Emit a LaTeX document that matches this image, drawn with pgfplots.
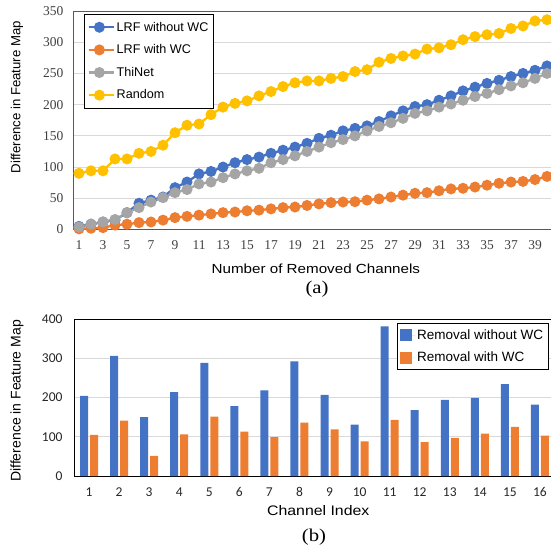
\documentclass[border=0pt]{standalone}
\usepackage{pgfplots}
\pgfplotsset{compat=1.18}
\usepackage{fontspec}
\setmainfont{Liberation Sans}
\newfontfamily\carlito{Carlito}
\newfontfamily\timesf{Liberation Serif}
\newfontfamily\timeswide[FakeStretch=1.15]{Liberation Serif}
\newfontfamily\arialwide[FakeStretch=1.15]{Liberation Sans}
\definecolor{cblue}{HTML}{4472C4}
\definecolor{corange}{HTML}{ED7D31}
\definecolor{cgrey}{HTML}{A5A5A5}
\definecolor{cgold}{HTML}{FFC000}
\definecolor{cgrid}{HTML}{D9D9D9}
\begin{document}
\begin{tikzpicture}
\useasboundingbox (0pt,0pt) rectangle (551pt,546pt);
\begin{axis}[
  at={(73pt,316.5pt)}, anchor=south west,
  scale only axis, width=480pt, height=218.5pt,
  xmin=0.5, xmax=40.5, ymin=0, ymax=350,
  xtick={1,3,...,39}, ytick={0,50,...,350},
  major tick length=0pt,
  ymajorgrids, grid style={cgrid, line width=0.8pt},
  axis line style={gray!70!black, line width=0.8pt},
  /pgf/number format/assume math mode=true,
  ticklabel style={font=\timesf\fontsize{13.5}{15}\selectfont, text=black!75},
  xticklabel style={yshift=-7.5pt},
  yticklabel style={xshift=-6pt},
  xlabel={Number of Removed Channels},
  ylabel={Difference in Feature Map},
  xlabel style={font=\arialwide\fontsize{13.2}{15}\selectfont, at={(axis description cs:0.506,-0.178)}, anchor=center},
  ylabel style={font=\fontsize{13.2}{15}\selectfont, at={(axis description cs:-0.1167,0.606)}, anchor=center},
  legend style={at={(axis description cs:0.023,0.986)}, anchor=north west,
    draw=black, line width=0.8pt, fill=white, font=\fontsize{12.6}{14}\selectfont, row sep=8pt,
    inner xsep=3pt, inner ysep=5.5pt},
  legend cell align=left,
  legend image code/.code={
    \draw[#1, mark repeat=2, mark phase=2] plot coordinates {(0pt,0pt) (10.8pt,0pt) (21.6pt,0pt)};
    \path (0pt,0pt) -- (25pt,0pt);},
  every axis plot/.append style={line width=2.3pt, mark=*, mark size=4.3pt, mark options={solid}},
]
\addplot[cblue] coordinates {(1,5)(2,8.5)(3,12)(4,15)(5,27)(6,42)(7,47)(8,52)(9,67)(10,76)(11,89)(12,93)(13,100)(14,107)(15,112)(16,116)(17,122)(18,127)(19,132)(20,138)(21,146)(22,151)(23,158)(24,162)(25,166)(26,173)(27,182)(28,190)(29,197)(30,200)(31,207)(32,214)(33,222)(34,228)(35,234)(36,239)(37,245)(38,250)(39,255)(40,262)};
\addlegendentry{LRF without WC}
\addplot[corange] coordinates {(1,1)(2,2)(3,3)(4,7)(5,8.5)(6,11)(7,12)(8,15)(9,19)(10,21)(11,23)(12,25)(13,27)(14,28)(15,30)(16,31)(17,33)(18,35)(19,36)(20,38.5)(21,41)(22,43)(23,44)(24,44.5)(25,47)(26,49)(27,52)(28,55)(29,58)(30,59)(31,62)(32,65)(33,66)(34,68)(35,71)(36,74)(37,76)(38,77)(39,80)(40,85)};
\addlegendentry{LRF with WC}
\addplot[cgrey] coordinates {(1,4)(2,8.5)(3,12)(4,16)(5,27)(6,35)(7,44)(8,51)(9,59)(10,64)(11,73)(12,76)(13,83)(14,89)(15,94)(16,98)(17,107)(18,112)(19,118)(20,125)(21,132)(22,139)(23,144)(24,150)(25,158)(26,165)(27,171)(28,178)(29,186)(30,190)(31,196)(32,201)(33,207)(34,213)(35,218)(36,224)(37,230)(38,235)(39,242)(40,250)};
\addlegendentry{ThiNet}
\addplot[cgold] coordinates {(1,90)(2,94)(3,94)(4,113)(5,113)(6,122)(7,125)(8,135)(9,155)(10,167)(11,169)(12,184)(13,196)(14,202)(15,206)(16,214)(17,221)(18,229)(19,235)(20,238)(21,238)(22,242)(23,245)(24,253)(25,256)(26,268)(27,274)(28,278)(29,281)(30,289)(31,291)(32,296)(33,304)(34,309)(35,312)(36,314)(37,322)(38,326)(39,334)(40,336)};
\addlegendentry{Random}
\end{axis}
\node[font=\timeswide\fontsize{18}{20}\selectfont] at (317pt,257pt) {(a)};

\begin{axis}[
  at={(74pt,70pt)}, anchor=south west,
  scale only axis, width=478pt, height=157pt,
  xmin=0.5, xmax=16.4, ymin=0, ymax=400,
  xtick={1,...,16}, ytick={0,100,...,400},
  major tick length=0pt,
  ymajorgrids, grid style={cgrid, line width=0.8pt},
  axis line style={black, line width=0.8pt},
  /pgf/number format/assume math mode=true,
  ticklabel style={font=\carlito\fontsize{13.5}{15}\selectfont, text=black!85},
  xticklabel style={yshift=-8pt},
  yticklabel style={xshift=-8pt},
  xlabel={Channel Index},
  ylabel={Difference in Feature Map},
  xlabel style={font=\arialwide\fontsize{13.8}{15}\selectfont, at={(axis description cs:0.511,-0.217)}, anchor=center},
  ylabel style={font=\fontsize{14}{16}\selectfont, at={(axis description cs:-0.119,0.478)}, anchor=center},
  ybar=2pt, bar width=8pt,
  legend style={at={(axis description cs:0.675,0.975)}, anchor=north west,
    draw=black, line width=0.8pt, fill=white, font=\fontsize{13.5}{15}\selectfont, row sep=7pt,
    inner xsep=3pt, inner ysep=4.5pt},
  legend cell align=left,
  legend image code/.code={\fill[#1] (0pt,-6pt) rectangle (12pt,6pt); \path (0pt,0pt) -- (15pt,0pt);},
]
\addplot[fill=cblue, draw=none] coordinates {(1,204)(2,306)(3,150)(4,214)(5,288)(6,178)(7,218)(8,292)(9,207)(10,131)(11,381)(12,168)(13,194)(14,199)(15,234)(16,182)};
\addlegendentry{Removal without WC}
\addplot[fill=corange, draw=none] coordinates {(1,105)(2,141)(3,51)(4,106)(5,151)(6,113)(7,99)(8,136)(9,119)(10,88)(11,143)(12,86)(13,97)(14,108)(15,125)(16,103)};
\addlegendentry{Removal with WC}
\end{axis}
\node[font=\timeswide\fontsize{18}{20}\selectfont] at (314pt,8.5pt) {(b)};
\end{tikzpicture}
\end{document}
